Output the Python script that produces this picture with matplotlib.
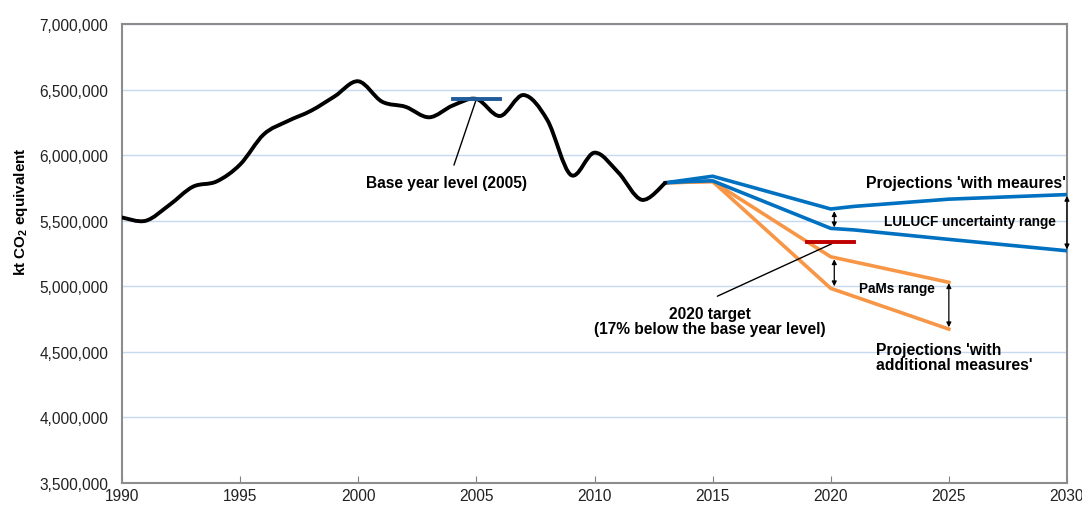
import matplotlib
matplotlib.use('Agg')
import matplotlib.pyplot as plt
from matplotlib.path import Path
from matplotlib.patches import PathPatch
from matplotlib.ticker import FuncFormatter

plt.rcParams['font.family'] = ['Liberation Sans', 'DejaVu Sans']
plt.rcParams['mathtext.fontset'] = 'custom'
plt.rcParams['mathtext.rm'] = 'Liberation Sans'
plt.rcParams['mathtext.bf'] = 'Liberation Sans:bold'

# historical emissions (kt CO2 eq)
hist_years = list(range(1990, 2014))
hist_vals = [5525000, 5500000, 5620000, 5760000, 5800000, 5930000, 6160000, 6260000,
             6340000, 6450000, 6565000, 6410000, 6370000, 6290000, 6380000, 6430000,
             6300000, 6460000, 6270000, 5850000, 6020000, 5870000, 5660000, 5790000]

# projections 'with measures' (LULUCF range)
wem_years_hi = [2013, 2014, 2015, 2020, 2021, 2025, 2030]
wem_hi = [5790000, 5815000, 5840000, 5590000, 5610000, 5665000, 5700000]
wem_years_lo = [2013, 2014, 2015, 2020, 2021, 2025, 2030]
wem_lo = [5790000, 5800000, 5805000, 5442000, 5430000, 5358000, 5271000]

# projections 'with additional measures' (PaMs range)
wam_years = [2013, 2014, 2015, 2020, 2025]
wam_hi = [5790000, 5795000, 5800000, 5225000, 5030000]
wam_lo = [5790000, 5795000, 5800000, 4984000, 4673000]

base_years = [2004, 2006]
base_level = 6430000
target_years = [2019, 2021]
target_level = 5340000

xticks = list(range(1990, 2031, 5))
yticks = list(range(3500000, 7000001, 500000))


def smooth_path(x, y):
    verts = [(x[0], y[0])]
    codes = [Path.MOVETO]
    n = len(x)
    for i in range(n - 1):
        x0, y0 = (x[i - 1], y[i - 1]) if i > 0 else (x[i], y[i])
        x3, y3 = (x[i + 2], y[i + 2]) if i + 2 < n else (x[i + 1], y[i + 1])
        c1 = (x[i] + (x[i + 1] - x0) / 6, y[i] + (y[i + 1] - y0) / 6)
        c2 = (x[i + 1] - (x3 - x[i]) / 6, y[i + 1] - (y3 - y[i]) / 6)
        verts += [c1, c2, (x[i + 1], y[i + 1])]
        codes += [Path.CURVE4] * 3
    return Path(verts, codes)


fig = plt.figure(figsize=(10.82, 5.06), dpi=100)
ax = fig.add_axes([0.1128, 0.044, 0.8733, 0.906])

orange = '#F79646'
blue = '#0070C0'

ax.plot(wam_years, wam_hi, color=orange, lw=2.6, solid_joinstyle='round', zorder=3)
ax.plot(wam_years, wam_lo, color=orange, lw=2.6, solid_joinstyle='round', zorder=3)
ax.plot(wem_years_hi, wem_hi, color=blue, lw=2.6, solid_joinstyle='round', zorder=4)
ax.plot(wem_years_lo, wem_lo, color=blue, lw=2.6, solid_joinstyle='round', zorder=4)
ax.add_patch(PathPatch(smooth_path(hist_years, hist_vals), fill=False,
                       edgecolor='black', lw=2.8, capstyle='round', zorder=5))
ax.plot(base_years, [base_level] * 2, color='#1F5C99', lw=2.8, zorder=6)
ax.plot(target_years, [target_level] * 2, color='#C00000', lw=2.8, zorder=6)

ax.set_xlim(1990, 2030)
ax.set_ylim(3500000, 7000000)
ax.set_xticks(xticks)
ax.set_yticks(yticks)
ax.yaxis.set_major_formatter(FuncFormatter(lambda v, p: '{:,.0f}'.format(v)))
ax.tick_params(axis='y', length=0, pad=10, labelsize=11.2, labelcolor='#222222')
ax.tick_params(axis='x', direction='in', length=5, color='#808080', pad=4,
               labelsize=11.2, labelcolor='#222222')
ax.grid(axis='y', color='#C6D9F1', lw=1)
ax.set_axisbelow(True)
for s in ax.spines.values():
    s.set_color('#8C8C8C')
    s.set_linewidth(1.5)

ax.set_ylabel(r'kt CO$_\mathbf{2}$ equivalent', fontsize=11, fontweight='bold')
ax.yaxis.set_label_coords(-0.097, 0.593)

lead = dict(arrowstyle='-', color='black', lw=1, shrinkA=0, shrinkB=0)
ax.text(2003.75, 5795000, 'Base year level (2005)', ha='center', va='center',
        fontsize=11.2, fontweight='bold')
ax.annotate('', xy=(2005.0, base_level), xytext=(2004.05, 5925000), arrowprops=lead)
ax.annotate('', xy=(2020.05, 5325000), xytext=(2015.2, 4924000), arrowprops=lead)
ax.text(2014.9, 4735000, '2020 target\n(17% below the base year level)', ha='center',
        va='center', fontsize=11.2, fontweight='bold', linespacing=1.05)

ax.text(2021.5, 5795000, "Projections 'with meaures'", ha='left', va='center',
        fontsize=11.4, fontweight='bold')
ax.text(2025.9, 5497000, 'LULUCF uncertainty range', ha='center', va='center',
        fontsize=9.8, fontweight='bold')
ax.text(2022.8, 4990000, 'PaMs range', ha='center', va='center',
        fontsize=9.8, fontweight='bold')
ax.text(2021.9, 4460000, "Projections 'with\nadditional measures'", ha='left',
        va='center', fontsize=11.3, fontweight='bold', linespacing=1.0)

dbl = dict(arrowstyle='<|-|>', color='black', lw=0.9, mutation_scale=7,
           shrinkA=0, shrinkB=0)
for xa, y1, y2 in [(2020.15, 5573000, 5450000), (2020.15, 5206000, 5000000),
                   (2025.0, 5023000, 4687000), (2030.0, 5690000, 5282000)]:
    ax.annotate('', xy=(xa, y2), xytext=(xa, y1), arrowprops=dbl, zorder=8)

fig.savefig('out.png', dpi=100)
